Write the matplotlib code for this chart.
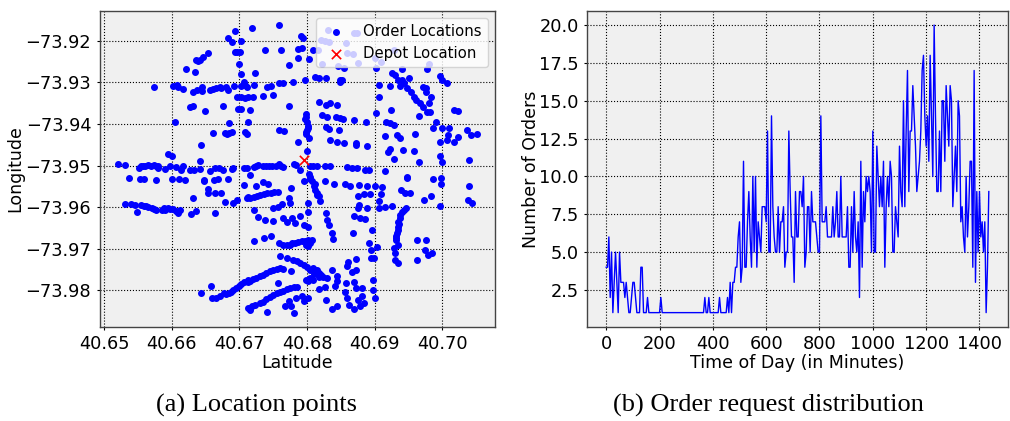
import matplotlib
matplotlib.use('Agg')
import matplotlib.pyplot as plt

# order locations
lat = [40.6694,40.6683,40.6689,40.6702,40.6693,40.6697,40.6701,40.6700,40.6702,40.6654,40.6646,40.6642,40.6638,40.6635,40.6621,40.6634,
40.6574,40.6602,40.6607,40.6609,40.6616,40.6632,40.6637,40.6644,40.6644,40.6656,40.6661,40.6666,40.6671,40.6672,40.6680,40.6683,
40.6692,40.6703,40.6707,40.6708,40.6711,40.6696,40.6702,40.6708,40.6712,40.6627,40.6632,40.6649,40.6675,40.6698,40.6702,40.6715,
40.6604,40.6685,40.6712,40.6661,40.6678,40.6681,40.6685,40.6689,40.6708,40.6711,40.6643,40.6594,40.6600,40.6642,40.6520,40.6531,
40.6552,40.6557,40.6564,40.6574,40.6579,40.6580,40.6590,40.6597,40.6606,40.6616,40.6614,40.6627,40.6633,40.6642,40.6656,40.6664,
40.6670,40.6675,40.6689,40.6691,40.6706,40.6711,40.6537,40.6553,40.6559,40.6577,40.6600,40.6610,40.6620,40.6647,40.6648,40.6662,
40.6669,40.6683,40.6706,40.6715,40.6654,40.6653,40.6631,40.6664,40.6673,40.6679,40.6691,40.6696,40.6711,40.6713,40.6530,40.6539,
40.6545,40.6554,40.6559,40.6565,40.6570,40.6576,40.6586,40.6588,40.6595,40.6601,40.6606,40.6612,40.6609,40.6548,40.6629,40.6636,
40.6664,40.6658,40.6643,40.6659,40.6665,40.6671,40.6677,40.6684,40.6691,40.6699,40.6703,40.6712,40.6712,40.6715,40.6718,40.6759,
40.6791,40.6794,40.6738,40.6762,40.6786,40.6792,40.6787,40.6803,40.6809,40.6774,40.6723,40.6831,40.6869,40.6874,40.6820,40.6827,
40.6832,40.6857,40.6816,40.6859,40.6868,40.6822,40.6876,40.6901,40.6910,40.6929,40.6980,40.6846,40.6854,40.6902,40.6941,40.6977,
40.6721,40.6741,40.6747,40.6759,40.6765,40.6779,40.6797,40.6812,40.6818,40.6828,40.6848,40.6851,40.6848,40.6720,40.6735,40.6749,
40.6906,40.6906,40.6923,40.6937,40.6940,40.6951,40.6925,40.6930,40.6935,40.6944,40.6948,40.6954,40.6958,40.6961,40.6967,40.6972,
40.6977,40.6982,40.6971,40.6976,40.6976,40.6983,40.6981,40.6965,40.6997,40.7000,40.7007,40.7018,40.7024,40.6924,40.6902,40.6774,
40.6818,40.6828,40.6834,40.6845,40.6799,40.6797,40.6822,40.6830,40.6843,40.6849,40.6853,40.6869,40.6887,40.6917,40.6923,40.6929,
40.6758,40.6766,40.6801,40.6799,40.6803,40.6828,40.6832,40.6847,40.6787,40.6800,40.6834,40.6845,40.6855,40.6873,40.6873,40.6889,
40.6915,40.6933,40.6937,40.6959,40.6991,40.6987,40.7000,40.7010,40.7008,40.7007,40.6996,40.7018,40.7024,40.7036,40.7042,40.7051,
40.6923,40.6920,40.6942,40.6958,40.6928,40.6965,40.6996,40.6999,40.7039,40.6725,40.6744,40.6754,40.6762,40.6780,40.6789,40.6809,
40.6814,40.6826,40.6834,40.6859,40.6866,40.6874,40.6886,40.6891,40.6915,40.6948,40.6987,40.6998,40.6998,40.7039,40.6805,40.6812,
40.6795,40.6827,40.6840,40.6856,40.6864,40.6877,40.6888,40.6901,40.6911,40.6812,40.6817,40.6819,40.6802,40.6802,40.6735,40.6742,
40.6725,40.6776,40.6773,40.6775,40.6716,40.6726,40.6736,40.6746,40.6757,40.6750,40.6757,40.6763,40.6722,40.6727,40.6738,40.6750,
40.6765,40.6777,40.6770,40.6789,40.6782,40.6795,40.6802,40.6828,40.6830,40.6833,40.6837,40.6838,40.6722,40.6737,40.6747,40.6759,
40.6770,40.6777,40.6787,40.6797,40.6807,40.6802,40.6876,40.6884,40.6893,40.6909,40.6906,40.6906,40.6915,40.6925,40.6877,40.6876,
40.6888,40.6870,40.6878,40.6885,40.6896,40.6868,40.6939,40.6945,40.6952,40.6948,40.6973,40.6984,40.6996,40.7038,40.7044,40.6943,
40.6938,40.6935,40.6935,40.6933,40.6931,40.6935,40.6929,40.6930,40.6930,40.6934,40.6892,40.6894,40.6894,40.6899,40.6904,40.6962,
40.6976,40.6974,40.6979,40.6985,40.6963,40.6760,40.6771,40.6779,40.6790,40.6800,40.6809,40.6817,40.6824,40.6830,40.6802,40.6809,
40.6817,40.6812,40.6760,40.6750,40.6740,40.6730,40.6720,40.6776,40.6757,40.6837,40.6845,40.6845,40.6841,40.6827,40.6818,40.6860,
40.6859,40.6866,40.6873,40.6873,40.6858,40.6870,40.6873,40.6882,40.6897,40.6897,40.6901,40.6856,40.6859,40.6862,40.6870,40.6881,
40.6875,40.6884,40.6879,40.6845,40.6837,40.6828,40.6785,40.6775,40.6765,40.6755,40.6745,40.6735,40.6723,40.6741,40.6783,40.6774,
40.6767,40.6776,40.6780,40.6792,40.6801,40.6796,40.6716,
# denser stretches along the streets
40.6555,40.6560,40.6569,40.6577,40.6722,40.6728,40.6735,40.6740,40.6748,40.6758,40.6764,40.6783,40.6805,
40.6803,40.6805,40.6807,40.6810,40.6814,40.6815,40.6798,40.6800,40.6802,40.6800,40.6798,
40.6721,40.6731,40.6741,40.6751,40.6775,40.6782,40.6792,40.6802,40.6805,40.6798,40.6765,
40.6941,40.6937,40.6936,40.6934,40.6932,40.6932,40.6946,
40.6805,40.6812,40.6815,40.6820,40.6805,40.6798,40.6795,40.6785,40.6810,
40.6780,40.6770,40.6760,40.6750,40.6740,40.6730,40.6718,40.6765,40.6755,40.6745,40.6735,40.6725,40.6716,40.6712,
40.6562,40.6573,40.6590,40.6598,40.6680,40.6688,40.6695,40.6707]
lon = [-73.9177,-73.9194,-73.9202,-73.9200,-73.9226,-73.9226,-73.9226,-73.9256,-73.9280,-73.9228,-73.9238,-73.9245,-73.9248,-73.9247,-73.9268,-73.9275,
-73.9312,-73.9309,-73.9307,-73.9312,-73.9316,-73.9322,-73.9318,-73.9312,-73.9320,-73.9317,-73.9316,-73.9314,-73.9310,-73.9314,-73.9310,-73.9318,
-73.9309,-73.9309,-73.9298,-73.9306,-73.9310,-73.9335,-73.9335,-73.9337,-73.9334,-73.9360,-73.9357,-73.9368,-73.9357,-73.9364,-73.9363,-73.9366,
-73.9396,-73.9398,-73.9396,-73.9422,-73.9422,-73.9424,-73.9421,-73.9420,-73.9419,-73.9424,-73.9451,-73.9472,-73.9478,-73.9489,-73.9495,-73.9499,
-73.9505,-73.9500,-73.9499,-73.9499,-73.9500,-73.9505,-73.9507,-73.9502,-73.9504,-73.9502,-73.9510,-73.9510,-73.9510,-73.9509,-73.9512,-73.9506,
-73.9506,-73.9510,-73.9508,-73.9506,-73.9506,-73.9506,-73.9530,-73.9533,-73.9533,-73.9535,-73.9532,-73.9532,-73.9534,-73.9538,-73.9534,-73.9534,
-73.9532,-73.9532,-73.9546,-73.9522,-73.9557,-73.9566,-73.9577,-73.9565,-73.9567,-73.9588,-73.9589,-73.9583,-73.9579,-73.9575,-73.9593,-73.9593,
-73.9594,-73.9595,-73.9597,-73.9599,-73.9603,-73.9606,-73.9607,-73.9603,-73.9603,-73.9605,-73.9609,-73.9607,-73.9615,-73.9612,-73.9617,-73.9608,
-73.9613,-73.9789,-73.9806,-73.9819,-73.9819,-73.9814,-73.9806,-73.9807,-73.9799,-73.9790,-73.9785,-73.9775,-73.9843,-73.9847,-73.9168,-73.9162,
-73.9189,-73.9193,-73.9222,-73.9221,-73.9220,-73.9217,-73.9240,-73.9244,-73.9222,-73.9258,-73.9277,-73.9173,-73.9181,-73.9182,-73.9197,-73.9200,
-73.9202,-73.9206,-73.9222,-73.9230,-73.9232,-73.9256,-73.9254,-73.9242,-73.9250,-73.9221,-73.9256,-73.9261,-73.9266,-73.9265,-73.9268,-73.9268,
-73.9306,-73.9310,-73.9308,-73.9302,-73.9302,-73.9300,-73.9294,-73.9286,-73.9288,-73.9288,-73.9293,-73.9294,-73.9298,-73.9336,-73.9333,-73.9330,
-73.9306,-73.9334,-73.9309,-73.9309,-73.9294,-73.9288,-73.9276,-73.9282,-73.9294,-73.9302,-73.9314,-73.9322,-73.9336,-73.9341,-73.9350,-73.9358,
-73.9370,-73.9370,-73.9310,-73.9314,-73.9322,-73.9336,-73.9349,-73.9380,-73.9284,-73.9294,-73.9301,-73.9366,-73.9368,-73.9366,-73.9373,-73.9356,
-73.9346,-73.9353,-73.9350,-73.9355,-73.9376,-73.9389,-73.9378,-73.9382,-73.9382,-73.9386,-73.9389,-73.9390,-73.9395,-73.9396,-73.9398,-73.9402,
-73.9415,-73.9417,-73.9410,-73.9424,-73.9434,-73.9408,-73.9413,-73.9414,-73.9444,-73.9465,-73.9438,-73.9442,-73.9445,-73.9445,-73.9450,-73.9452,
-73.9429,-73.9426,-73.9433,-73.9425,-73.9394,-73.9410,-73.9410,-73.9410,-73.9426,-73.9438,-73.9444,-73.9442,-73.9430,-73.9414,-73.9426,-73.9425,
-73.9460,-73.9468,-73.9462,-73.9465,-73.9484,-73.9492,-73.9478,-73.9492,-73.9486,-73.9501,-73.9500,-73.9500,-73.9500,-73.9496,-73.9510,-73.9500,
-73.9500,-73.9502,-73.9500,-73.9504,-73.9506,-73.9506,-73.9510,-73.9510,-73.9514,-73.9528,-73.9532,-73.9530,-73.9544,-73.9549,-73.9527,-73.9543,
-73.9537,-73.9537,-73.9544,-73.9543,-73.9549,-73.9547,-73.9550,-73.9549,-73.9551,-73.9559,-73.9574,-73.9585,-73.9591,-73.9611,-73.9539,-73.9543,
-73.9549,-73.9553,-73.9577,-73.9590,-73.9579,-73.9574,-73.9569,-73.9566,-73.9563,-73.9602,-73.9599,-73.9593,-73.9607,-73.9623,-73.9630,-73.9634,
-73.9627,-73.9627,-73.9635,-73.9622,-73.9639,-73.9643,-73.9647,-73.9614,-73.9630,-73.9643,-73.9663,-73.9677,-73.9681,-73.9674,-73.9670,-73.9686,
-73.9691,-73.9687,-73.9683,-73.9681,-73.9678,-73.9694,-73.9573,-73.9569,-73.9569,-73.9569,-73.9585,-73.9601,-73.9599,-73.9597,-73.9594,-73.9602,
-73.9603,-73.9621,-73.9625,-73.9628,-73.9655,-73.9663,-73.9558,-73.9567,-73.9566,-73.9529,-73.9583,-73.9573,-73.9596,-73.9582,-73.9589,-73.9607,
-73.9619,-73.9635,-73.9647,-73.9663,-73.9675,-73.9691,-73.9699,-73.9711,-73.9727,-73.9735,-73.9687,-73.9703,-73.9723,-73.9723,-73.9696,-73.9679,
-73.9679,-73.9703,-73.9715,-73.9711,-73.9727,-73.9718,-73.9723,-73.9726,-73.9735,-73.9743,-73.9747,-73.9759,-73.9767,-73.9771,-73.9778,-73.9774,
-73.9769,-73.9755,-73.9746,-73.9750,-73.9758,-73.9766,-73.9773,-73.9754,-73.9782,-73.9750,-73.9766,-73.9778,-73.9789,-73.9793,-73.9797,-73.9731,
-73.9742,-73.9755,-73.9751,-73.9724,-73.9783,-73.9779,-73.9794,-73.9795,-73.9775,-73.9799,-73.9818,-73.9803,-73.9819,-73.9835,-73.9845,-73.9814,
-73.9823,-73.9831,-73.9838,-73.9838,-73.9845,-73.9823,-73.9791,-73.9795,-73.9801,-73.9807,-73.9817,-73.9827,-73.9835,-73.9851,-73.9818,-73.9825,
-73.9838,-73.9838,-73.9854,-73.9814,-73.9818,-73.9826,-73.9843,
# denser stretches along the streets
-73.9500,-73.9500,-73.9500,-73.9502,-73.9503,-73.9499,-73.9501,-73.9502,-73.9502,-73.9497,-73.9504,-73.9499,-73.9502,
-73.9520,-73.9532,-73.9536,-73.9550,-73.9565,-73.9570,-73.9382,-73.9395,-73.9405,-73.9415,-73.9418,
-73.9576,-73.9571,-73.9567,-73.9564,-73.9690,-73.9685,-73.9682,-73.9680,-73.9687,-73.9690,-73.9692,
-73.9612,-73.9627,-73.9641,-73.9655,-73.9669,-73.9680,-73.9603,
-73.9750,-73.9750,-73.9752,-73.9762,-73.9770,-73.9776,-73.9740,-73.9730,-73.9760,
-73.9793,-73.9798,-73.9804,-73.9812,-73.9822,-73.9831,-73.9838,-73.9748,-73.9748,-73.9754,-73.9762,-73.9770,-73.9777,-73.9780,
-73.9598,-73.9604,-73.9606,-73.9604,-73.9810,-73.9803,-73.9795,-73.9780]
depot_lat = [40.6795]
depot_lon = [-73.9486]

# orders per 5 minute bin, one row per hour
minutes = [0,5,10,15,20,25,30,35,40,45,50,55,60,65,70,75,80,85,90,95,100,105,110,115,
120,125,130,135,140,145,150,155,160,165,170,175,180,185,190,195,200,205,210,215,220,225,230,235,
240,245,250,255,260,265,270,275,280,285,290,295,300,305,310,315,320,325,330,335,340,345,350,355,
360,365,370,375,380,385,390,395,400,405,410,415,420,425,430,435,440,445,450,455,460,465,470,475,
480,485,490,495,500,505,510,515,520,525,530,535,540,545,550,555,560,565,570,575,580,585,590,595,
600,605,610,615,620,625,630,635,640,645,650,655,660,665,670,675,680,685,690,695,700,705,710,715,
720,725,730,735,740,745,750,755,760,765,770,775,780,785,790,795,800,805,810,815,820,825,830,835,
840,845,850,855,860,865,870,875,880,885,890,895,900,905,910,915,920,925,930,935,940,945,950,955,
960,965,970,975,980,985,990,995,1000,1005,1010,1015,1020,1025,1030,1035,1040,1045,1050,1055,1060,1065,1070,1075,
1080,1085,1090,1095,1100,1105,1110,1115,1120,1125,1130,1135,1140,1145,1150,1155,1160,1165,1170,1175,1180,1185,1190,1195,
1200,1205,1210,1215,1220,1225,1230,1235,1240,1245,1250,1255,1260,1265,1270,1275,1280,1285,1290,1295,1300,1305,1310,1315,
1320,1325,1330,1335,1340,1345,1350,1355,1360,1365,1370,1375,1380,1385,1390,1395,1400,1405,1410,1415,1420,1425,1430,1435]
orders = [4,4,6,2,5,1,3,5,3,1,5,3,
3,3,2,3,2,1,1,2,3,3,2,1,
1,1,4,4,1,1,1,2,1,1,1,1,
1,1,1,1,1,2,1,1,1,1,1,1,
1,1,1,1,1,1,1,1,1,1,1,1,
1,1,1,1,1,1,1,1,1,1,1,1,
1,1,2,1,1,2,1,1,1,1,1,1,
1,2,1,1,1,1,1,2,1,3,1,3,
3,4,4,6,7,3,4,11,4,4,7,9,
6,4,10,5,10,4,7,6,5,8,8,8,
7,13,5,5,14,8,6,5,5,8,5,7,
7,8,4,5,5,13,9,6,6,3,9,6,
6,9,9,8,10,4,5,8,8,5,9,7,
7,7,6,5,5,14,7,7,7,8,6,6,
6,6,8,6,7,9,6,6,10,6,6,6,
6,8,4,4,8,5,9,6,5,7,2,11,
4,9,7,10,9,10,9,5,13,5,5,12,
10,8,10,8,11,4,8,10,8,11,10,5,
5,8,7,6,12,9,8,15,8,13,17,9,
13,13,16,14,12,9,10,11,13,17,18,14,
12,14,11,18,14,10,20,14,9,9,13,9,
15,15,11,16,14,12,16,15,8,10,12,9,
15,14,7,8,6,5,10,6,8,11,11,4,
17,3,9,5,9,6,7,5,7,1,4,9]

W, H = 1010, 421
fig = plt.figure(figsize=(W/100, H/100), dpi=100)
ax1 = fig.add_axes([99.5/W, 1-326.7/H, 395.5/W, 315.7/H])
ax2 = fig.add_axes([587/W, 1-326.7/H, 421/W, 315.7/H])

for ax in (ax1, ax2):
    ax.set_facecolor('#f0f0f0')
    ax.grid(True, color='black', linestyle=':', linewidth=0.8)
    ax.set_axisbelow(True)
    ax.tick_params(labelsize=12.8, length=2.5, width=0.8)
    for s in ax.spines.values():
        s.set_color('#444444')
        s.set_linewidth(1.0)

ax1.scatter(lat, lon, s=16, color='blue', label='Order Locations', zorder=2)
ax1.scatter(depot_lat, depot_lon, s=45, color='red', marker='x', linewidth=1.2, label='Depot Location', zorder=3)
ax1.set_xlim(40.6493, 40.7078)
ax1.set_ylim(-73.98875, -73.9128)
ax1.set_xticks([40.65, 40.66, 40.67, 40.68, 40.69, 40.70])
ax1.set_yticks([-73.92, -73.93, -73.94, -73.95, -73.96, -73.97, -73.98])
ax1.set_xticklabels(['40.65', '40.66', '40.67', '40.68', '40.69', '40.70'])
ax1.set_xlabel('Latitude', fontsize=12.5, labelpad=0.5)
ax1.set_ylabel('Longitude', fontsize=12.5, labelpad=1)
ax1.legend(loc='upper right', fontsize=10.7, borderaxespad=0.5, handletextpad=0.8, labelspacing=0.45)

ax2.plot(minutes, orders, color='blue', linewidth=1.0)
ax2.set_xlim(-72, 1507)
ax2.set_ylim(0.07, 20.93)
ax2.set_xticks([0, 200, 400, 600, 800, 1000, 1200, 1400])
ax2.set_yticks([2.5, 5, 7.5, 10, 12.5, 15, 17.5, 20])
ax2.set_xlabel('Time of Day (in Minutes)', fontsize=12.5, labelpad=0.5)
ax2.set_ylabel('Number of Orders', fontsize=12.5, labelpad=-1)

fig.text(256/W, 1-405.5/H, '(a) Location points', family='Liberation Serif', fontsize=19, ha='center', va='center')
fig.text(768.5/W, 1-405.5/H, '(b) Order request distribution', family='Liberation Serif', fontsize=19, ha='center', va='center')

fig.savefig('out.png', dpi=100)
